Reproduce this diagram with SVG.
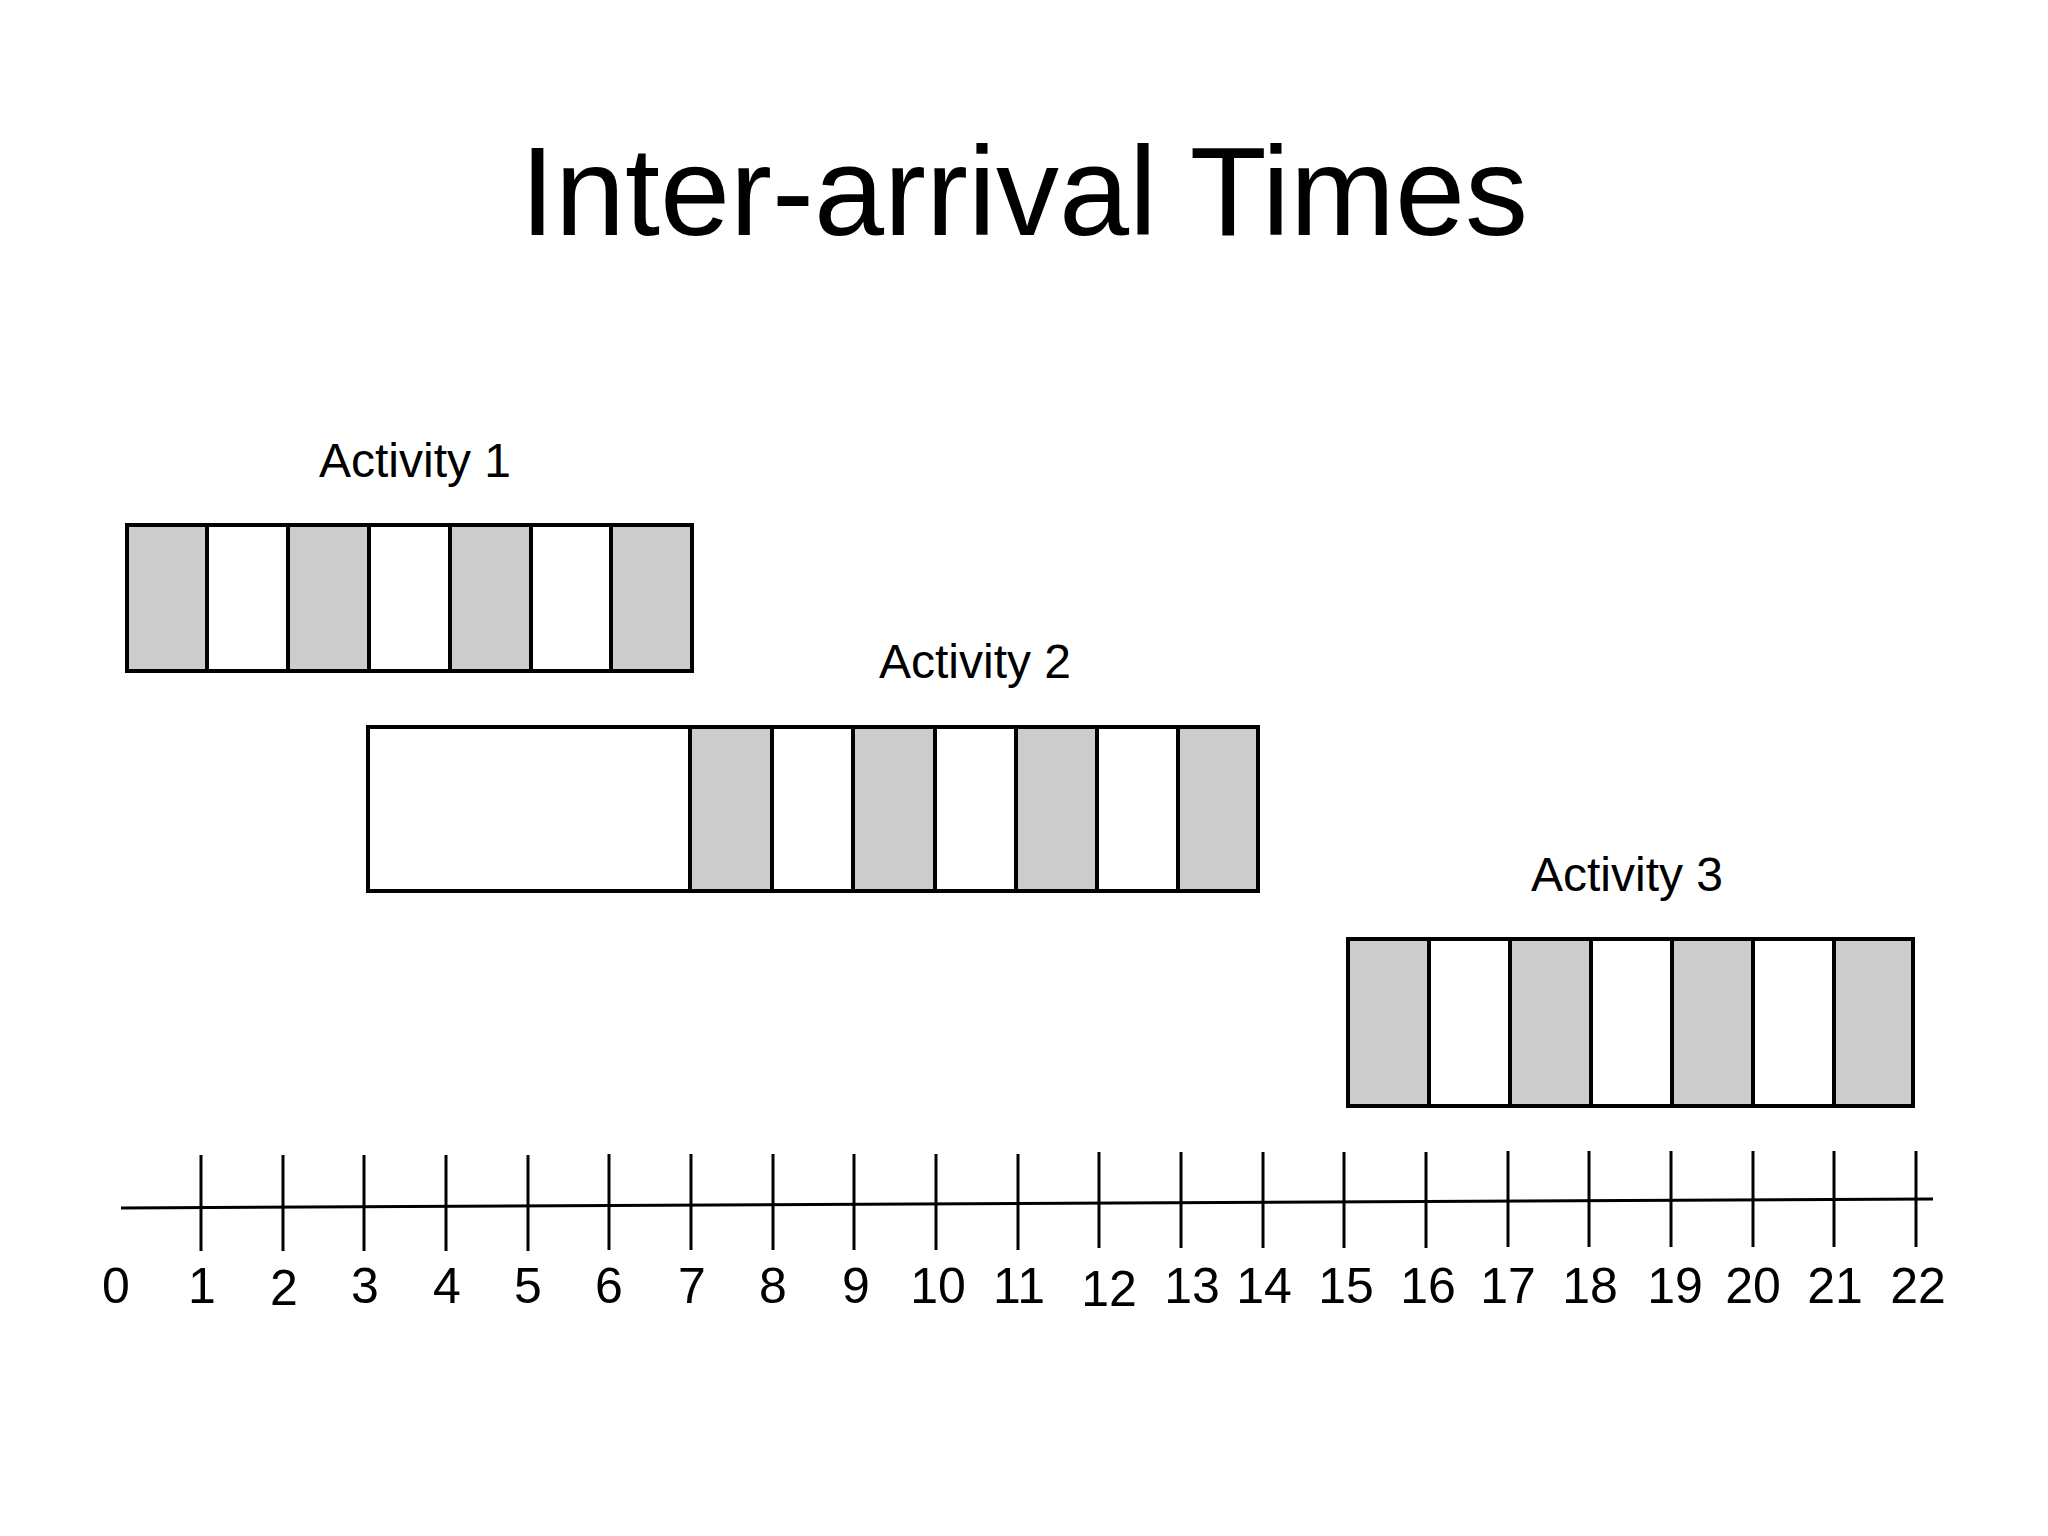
<svg xmlns="http://www.w3.org/2000/svg" width="2048" height="1536" viewBox="0 0 2048 1536">
<style>
.title{font-family:"Liberation Sans",Arial,sans-serif;font-size:126px;fill:#000}
.lbl{font-family:"Liberation Sans",Arial,sans-serif;font-size:48px;fill:#000}
.num{font-family:"Liberation Sans",Arial,sans-serif;font-size:50px;fill:#000;text-anchor:middle}
.g{fill:#cccccc;stroke:#000;stroke-width:4}
.w{fill:#ffffff;stroke:#000;stroke-width:4}
.ax{stroke:#000;stroke-width:3;fill:none}
</style>
<rect width="2048" height="1536" fill="#fff"/>
<text class="title" x="1024" y="235" text-anchor="middle">Inter-arrival Times</text>

<g id="activity1">
<text class="lbl" x="319" y="477">Activity 1</text>
<rect class="g" x="127" y="525" width="80" height="146"/>
<rect class="w" x="207" y="525" width="81" height="146"/>
<rect class="g" x="288" y="525" width="81" height="146"/>
<rect class="w" x="369" y="525" width="81" height="146"/>
<rect class="g" x="450" y="525" width="81" height="146"/>
<rect class="w" x="531" y="525" width="80" height="146"/>
<rect class="g" x="611" y="525" width="81" height="146"/>
</g>

<g id="activity2">
<text class="lbl" x="879" y="678">Activity 2</text>
<rect class="w" x="368" y="727" width="322" height="164"/>
<rect class="g" x="690" y="727" width="82" height="164"/>
<rect class="w" x="772" y="727" width="81" height="164"/>
<rect class="g" x="853" y="727" width="82" height="164"/>
<rect class="w" x="935" y="727" width="81" height="164"/>
<rect class="g" x="1016" y="727" width="81" height="164"/>
<rect class="w" x="1097" y="727" width="81" height="164"/>
<rect class="g" x="1178" y="727" width="80" height="164"/>
</g>

<g id="activity3">
<text class="lbl" x="1531" y="891">Activity 3</text>
<rect class="g" x="1348" y="939" width="81" height="167"/>
<rect class="w" x="1429" y="939" width="81" height="167"/>
<rect class="g" x="1510" y="939" width="81" height="167"/>
<rect class="w" x="1591" y="939" width="81" height="167"/>
<rect class="g" x="1672" y="939" width="81" height="167"/>
<rect class="w" x="1753" y="939" width="81" height="167"/>
<rect class="g" x="1834" y="939" width="79" height="167"/>
</g>

<g id="timeline">
<line class="ax" x1="121" y1="1208" x2="1933" y2="1199"/>
<g class="ax">
<line x1="201" y1="1155" x2="201" y2="1251"/>
<line x1="283" y1="1155" x2="283" y2="1251"/>
<line x1="364" y1="1155" x2="364" y2="1251"/>
<line x1="446" y1="1155" x2="446" y2="1251"/>
<line x1="528" y1="1155" x2="528" y2="1251"/>
<line x1="609" y1="1154" x2="609" y2="1250"/>
<line x1="691" y1="1154" x2="691" y2="1250"/>
<line x1="773" y1="1154" x2="773" y2="1250"/>
<line x1="854" y1="1154" x2="854" y2="1250"/>
<line x1="936" y1="1154" x2="936" y2="1250"/>
<line x1="1018" y1="1154" x2="1018" y2="1250"/>
<line x1="1099" y1="1152" x2="1099" y2="1248"/>
<line x1="1181" y1="1152" x2="1181" y2="1248"/>
<line x1="1263" y1="1152" x2="1263" y2="1248"/>
<line x1="1344" y1="1152" x2="1344" y2="1248"/>
<line x1="1426" y1="1152" x2="1426" y2="1248"/>
<line x1="1508" y1="1151" x2="1508" y2="1247"/>
<line x1="1589" y1="1151" x2="1589" y2="1247"/>
<line x1="1671" y1="1151" x2="1671" y2="1247"/>
<line x1="1753" y1="1151" x2="1753" y2="1247"/>
<line x1="1834" y1="1151" x2="1834" y2="1247"/>
<line x1="1916" y1="1151" x2="1916" y2="1247"/>
</g>
<text class="num" x="116" y="1303">0</text>
<text class="num" x="202" y="1303">1</text>
<text class="num" x="284" y="1305">2</text>
<text class="num" x="365" y="1303">3</text>
<text class="num" x="447" y="1303">4</text>
<text class="num" x="528" y="1303">5</text>
<text class="num" x="609" y="1303">6</text>
<text class="num" x="692" y="1303">7</text>
<text class="num" x="773" y="1303">8</text>
<text class="num" x="856" y="1303">9</text>
<text class="num" x="938" y="1303">10</text>
<text class="num" x="1019" y="1303">11</text>
<text class="num" x="1109" y="1306">12</text>
<text class="num" x="1192" y="1303">13</text>
<text class="num" x="1264" y="1303">14</text>
<text class="num" x="1346" y="1303">15</text>
<text class="num" x="1428" y="1303">16</text>
<text class="num" x="1508" y="1303">17</text>
<text class="num" x="1590" y="1303">18</text>
<text class="num" x="1675" y="1303">19</text>
<text class="num" x="1753" y="1303">20</text>
<text class="num" x="1835" y="1303">21</text>
<text class="num" x="1918" y="1303">22</text>
</g>
</svg>
